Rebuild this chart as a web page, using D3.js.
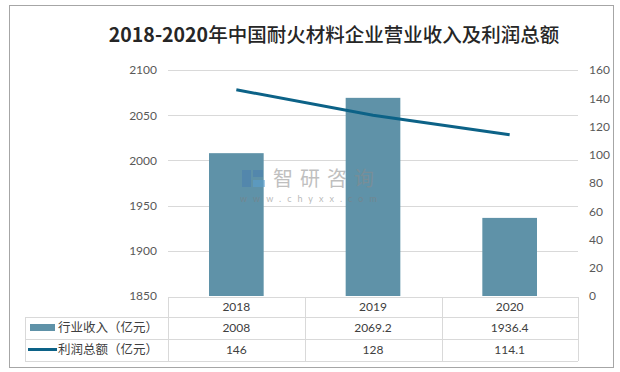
<!DOCTYPE html>
<html>
<head>
<meta charset="utf-8">
<script src="https://cdn.jsdelivr.net/npm/d3@7/dist/d3.min.js"></script>
<style>
  body { margin: 0; background: #fff; }
  svg { display: block; }
</style>
</head>
<body>
<svg id="chart"></svg>
<script>
const title = "2018-2020年中国耐火材料企业营业收入及利润总额";
const years = ["2018", "2019", "2020"];
const revenue = [2008, 2069.2, 1936.4];
const profit = [146, 128, 114.1];
const revenueLabels = ["2008", "2069.2", "1936.4"];
const profitLabels = ["146", "128", "114.1"];
const seriesNames = ["行业收入（亿元）", "利润总额（亿元）"];
const leftTicks = [1850, 1900, 1950, 2000, 2050, 2100];
const rightTicks = [0, 20, 40, 60, 80, 100, 120, 140, 160];

const W = 620, H = 372;
const barColor = "#5f92a8";
const lineColor = "#0c6287";
const gridColor = "#d9d9d9";
const font = 'Lato, "Noto Sans CJK SC", sans-serif';

const svg = d3.select("#chart").attr("width", W).attr("height", H);

// 外框
svg.append("rect")
  .attr("x", 9.5).attr("y", 5.5)
  .attr("width", 604).attr("height", 362)
  .attr("fill", "#fff").attr("stroke", "#a6a6a6");

// 标题
const t = svg.append("text")
  .attr("x", 334).attr("y", 42)
  .attr("text-anchor", "middle")
  .attr("font-family", '"Noto Sans CJK SC", sans-serif')
  .attr("font-size", 19.5)
  .attr("fill", "#262626");
t.append("tspan").attr("font-weight", 700).text(title.slice(0, 9));
t.append("tspan").attr("font-weight", 500).text(title.slice(9));

const x = d3.scaleBand().domain(years).range([168, 578])
  .paddingInner(0.6).paddingOuter(0.3);
const yL = d3.scaleLinear().domain([1850, 2100]).range([296, 70]);
const yR = d3.scaleLinear().domain([0, 160]).range([296, 70]);

// 网格线
svg.append("g").selectAll("line")
  .data(leftTicks.slice(1))
  .join("line")
  .attr("x1", 168).attr("x2", 578)
  .attr("y1", d => Math.round(yL(d)) + 0.5)
  .attr("y2", d => Math.round(yL(d)) + 0.5)
  .attr("stroke", gridColor);

// 左轴
const axL = svg.append("g").attr("transform", "translate(157,0)")
  .call(d3.axisLeft(yL).tickValues(leftTicks).tickFormat(d3.format("d")).tickSize(0).tickPadding(0));
axL.select(".domain").remove();
axL.selectAll("text").attr("font-family", font).attr("font-size", 12).attr("fill", "#595959");

// 右轴
const axR = svg.append("g").attr("transform", "translate(589,0)")
  .call(d3.axisRight(yR).tickValues(rightTicks).tickFormat(d3.format("d")).tickSize(0).tickPadding(0));
axR.select(".domain").remove();
axR.selectAll("text").attr("font-family", font).attr("font-size", 12).attr("fill", "#595959");

// 柱子
svg.append("g").selectAll("rect")
  .data(years)
  .join("rect")
  .attr("x", d => x(d))
  .attr("width", x.bandwidth())
  .attr("y", (d, i) => yL(revenue[i]))
  .attr("height", (d, i) => yL(1850) - yL(revenue[i]))
  .attr("fill", barColor);

// 折线
const line = d3.line()
  .x((d, i) => x(years[i]) + x.bandwidth() / 2)
  .y(d => yR(d));
svg.append("path")
  .datum(profit)
  .attr("d", line)
  .attr("fill", "none")
  .attr("stroke", lineColor)
  .attr("stroke-width", 3);

// 水印
const wm = svg.append("g").attr("opacity", 0.55);
wm.append("rect").attr("x", 242).attr("y", 170).attr("width", 9).attr("height", 17).attr("fill", "#4a7fb0");
wm.append("rect").attr("x", 253).attr("y", 170).attr("width", 10).attr("height", 7).attr("fill", "#4a7fb0");
wm.append("rect").attr("x", 253).attr("y", 180).attr("width", 12).attr("height", 7).attr("fill", "#5aa0d0");
wm.append("text").attr("x", 273).attr("y", 186)
  .attr("font-family", '"Noto Sans CJK SC", sans-serif').attr("font-size", 20)
  .attr("letter-spacing", 7).attr("fill", "#8c8c8c").text("智研咨询");
wm.append("text").attr("x", 240).attr("y", 202)
  .attr("font-family", font).attr("font-size", 9)
  .attr("letter-spacing", 6).attr("fill", "#7f7f7f").text("www.chyxx.com");

// 数据表
const tb = svg.append("g").attr("stroke", gridColor).attr("shape-rendering", "crispEdges");
const rowY = [297, 317, 339, 361];
const colX = [168, 305, 442, 578];
tb.append("line").attr("x1", 168).attr("x2", 578).attr("y1", rowY[0] + 0.5).attr("y2", rowY[0] + 0.5);
rowY.slice(1).forEach(yy => {
  tb.append("line").attr("x1", 25).attr("x2", 578).attr("y1", yy + 0.5).attr("y2", yy + 0.5);
});
colX.forEach(xx => {
  tb.append("line").attr("x1", xx + 0.5).attr("x2", xx + 0.5).attr("y1", rowY[0]).attr("y2", rowY[3]);
});
tb.append("line").attr("x1", 25.5).attr("x2", 25.5).attr("y1", rowY[1]).attr("y2", rowY[3]);

const rows = [years, revenueLabels, profitLabels];
rows.forEach((r, ri) => {
  svg.append("g").selectAll("text")
    .data(r)
    .join("text")
    .attr("x", (d, i) => x(years[i]) + x.bandwidth() / 2)
    .attr("y", (rowY[ri] + rowY[ri + 1]) / 2)
    .attr("dy", "0.35em")
    .attr("text-anchor", "middle")
    .attr("font-family", font)
    .attr("font-size", 12)
    .attr("fill", "#404040")
    .text(d => d);
});

// 图例
svg.append("rect").attr("x", 30).attr("y", 324).attr("width", 25).attr("height", 7).attr("fill", barColor);
svg.append("line").attr("x1", 28).attr("x2", 57).attr("y1", 349.5).attr("y2", 349.5)
  .attr("stroke", lineColor).attr("stroke-width", 3);
svg.append("g").selectAll("text")
  .data(seriesNames)
  .join("text")
  .attr("x", 58)
  .attr("y", (d, i) => (rowY[i + 1] + rowY[i + 2]) / 2)
  .attr("dy", "0.35em")
  .attr("font-family", '"Noto Sans CJK SC", sans-serif')
  .attr("font-size", 12.5)
  .attr("fill", "#404040")
  .text(d => d);
</script>
</body>
</html>
